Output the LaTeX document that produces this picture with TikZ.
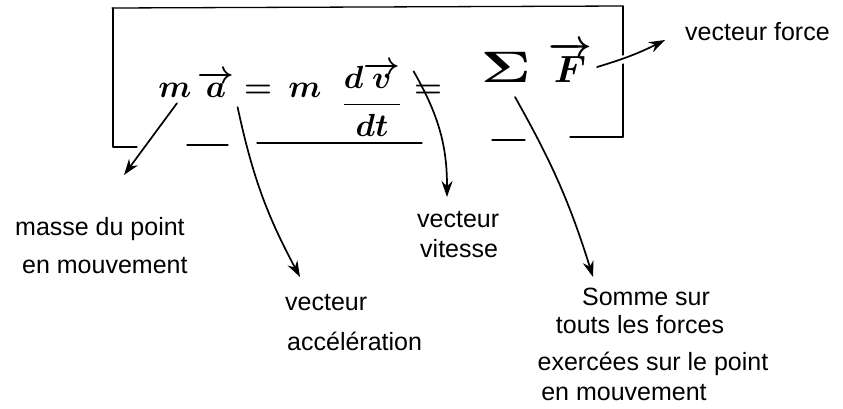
\RequirePackage{fix-cm}
\documentclass[tikz,border=0pt]{standalone}
\usepackage{fontspec}
\setmainfont{Liberation Sans}
\usetikzlibrary{arrows.meta}
\begin{document}
\begin{tikzpicture}[x=1pt,y=1pt,
  lbl/.style={font=\fontsize{25}{30}\selectfont, inner sep=0pt, anchor=base west},
  lblc/.style={lbl, anchor=base},
  mth/.style={font=\fontsize{32}{38}\selectfont\boldmath, inner sep=1pt, anchor=base},
  boxline/.style={line width=1.3pt, line cap=round},
  pointer/.style={line width=1.7pt, line cap=round, -{Stealth[length=16pt,width=11pt]}}]
\useasboundingbox (0,0) rectangle (843,-408);
% box
\draw[boxline] (112,-8) -- (623,-6);
\draw[boxline] (113,-8) -- (113,-147);
\draw[boxline] (623,-6) -- (623,-55);
\draw[boxline] (623,-64) -- (623,-137);
\draw[boxline] (113,-147) -- (137,-147);
\draw[boxline] (187,-145) -- (228,-145);
\draw[boxline] (257,-143) -- (422,-143);
\draw[boxline] (492,-140) -- (525,-140);
\draw[boxline] (570,-137) -- (623,-137);
% formula
\node[mth] (m1) at (175,-97) {$m$};
\node[mth] (a) at (216,-97) {$\overrightarrow{a}$};
\node[mth] (eq1) at (258,-97) {$=$};
\node[mth] (m2) at (305,-97) {$m$};
\node[mth] (frac) at (372,-112) {$\displaystyle\frac{d\overrightarrow{v}}{dt}$};
\node[mth] (eq2) at (428,-97) {$=$};
\node[mth, font=\fontsize{44}{50}\selectfont\boldmath] (sigma) at (506,-82) {\scalebox{1.4}[1]{$\Sigma$}};
\node[mth, font=\fontsize{38}{46}\selectfont\boldmath] (F) at (570,-82) {$\overrightarrow{F}$};
% labels
\node[lbl] (force) at (685,-40) {vecteur force};
\node[lbl] (masse1) at (15,-235) {masse du point};
\node[lbl] (masse2) at (22,-273) {en mouvement};
\node[lbl] (acc1) at (285,-310) {vecteur};
\node[lbl] (acc2) at (287,-350) {accélération};
\node[lbl] (vit1) at (417,-227) {vecteur};
\node[lbl] (vit2) at (420,-257) {vitesse};
\node[lblc] (som1) at (646,-305) {Somme sur};
\node[lblc] (som2) at (640,-333) {touts les forces};
\node[lblc] (som3) at (653,-370) {exercées sur le point};
\node[lblc] (som4) at (624,-400) {en mouvement};
% arrow ends
\coordinate (s1) at ([shift={(2,-5)}]m1.south);
\coordinate (s2) at ([shift={(2,-9)}]a.south east);
\coordinate (s3) at ([shift={(11,28)}]frac.east);
\coordinate (s4) at (515,-97);
\coordinate (s5) at ([shift={(4,15)}]F.base east);
\coordinate (t1) at (124,-175);
\coordinate (t2) at (300,-277);
\coordinate (t3) at (447,-197);
\coordinate (t4) at (593,-277);
\coordinate (t5) at (665,-40);
\draw[pointer] (s1) -- (t1);
\draw[pointer] (s2) to[bend right=8] (t2);
\draw[pointer] (s3) to[bend left=15] (t3);
\draw[pointer] (s4) to[bend left=6] (t4);
\draw[pointer] (s5) to[bend right=5] (t5);
\end{tikzpicture}
\end{document}
